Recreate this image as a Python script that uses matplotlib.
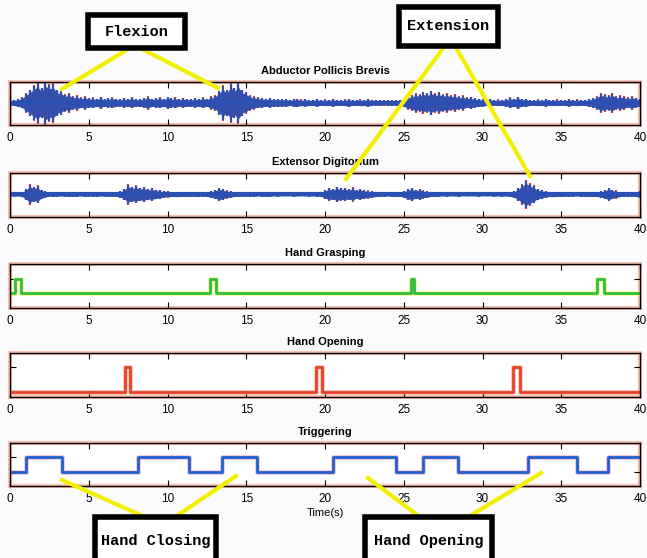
import matplotlib.pyplot as plt
import numpy as np
from matplotlib.lines import Line2D
from matplotlib.patches import Rectangle

# EMG amplitude envelopes, one value every 0.25 s from 0 to 40 s
emg_step = 0.25
apb_env = [
    0.12, 0.15, 0.18, 0.25, 0.45,
    0.6, 0.8, 0.95, 0.7, 1.0, 0.85, 0.9, 0.6,
    0.55, 0.4, 0.45, 0.3, 0.35, 0.25, 0.3, 0.22,
    0.25, 0.2, 0.28, 0.18, 0.22, 0.25, 0.2, 0.18,
    0.22, 0.2, 0.25, 0.18, 0.2, 0.22, 0.3, 0.2,
    0.22, 0.25, 0.2, 0.28, 0.22, 0.25, 0.2, 0.22,
    0.2, 0.18, 0.22, 0.2, 0.25, 0.2, 0.3, 0.35,
    0.55, 0.8, 0.6, 0.9, 0.7, 0.95, 0.6, 0.5,
    0.35, 0.3, 0.25, 0.22, 0.2, 0.22, 0.18, 0.2,
    0.18, 0.2, 0.15, 0.18, 0.2, 0.16, 0.18, 0.15,
    0.15, 0.18, 0.14, 0.16, 0.15, 0.17, 0.15, 0.14,
    0.16, 0.18, 0.15, 0.14, 0.16, 0.15, 0.18, 0.14,
    0.13, 0.15, 0.12, 0.14, 0.13, 0.15, 0.14, 0.2,
    0.3, 0.35, 0.45, 0.4, 0.5, 0.45, 0.55, 0.45,
    0.5, 0.4, 0.45, 0.35, 0.4, 0.3, 0.35, 0.25,
    0.28, 0.22, 0.2, 0.18, 0.15, 0.17, 0.14, 0.16,
    0.15, 0.18, 0.25, 0.2, 0.28, 0.18, 0.2, 0.15,
    0.14, 0.16, 0.15, 0.17, 0.14, 0.15, 0.16, 0.14,
    0.15, 0.17, 0.14, 0.16, 0.15, 0.14, 0.18, 0.22,
    0.3, 0.45, 0.4, 0.35, 0.45, 0.3, 0.35, 0.3,
    0.25, 0.3, 0.22, 0.2,
]
ed_env = [
    0.08, 0.1, 0.09, 0.12, 0.25,
    0.45, 0.35, 0.4, 0.2, 0.15, 0.1, 0.12, 0.1,
    0.09, 0.11, 0.1, 0.12, 0.1, 0.09, 0.11, 0.1,
    0.1, 0.12, 0.09, 0.1, 0.11, 0.1, 0.12, 0.15,
    0.25, 0.45, 0.35, 0.4, 0.3, 0.35, 0.25, 0.3,
    0.22, 0.2, 0.15, 0.14, 0.12, 0.13, 0.12, 0.11,
    0.12, 0.1, 0.12, 0.11, 0.1, 0.12, 0.15, 0.2,
    0.3, 0.25, 0.18, 0.15, 0.12, 0.11, 0.1, 0.12,
    0.1, 0.11, 0.09, 0.1, 0.12, 0.1, 0.09, 0.1,
    0.08, 0.09, 0.08, 0.1, 0.09, 0.08, 0.09, 0.1,
    0.09, 0.1, 0.12, 0.2, 0.3, 0.25, 0.35, 0.28,
    0.3, 0.25, 0.32, 0.22, 0.25, 0.2, 0.18, 0.15,
    0.12, 0.1, 0.11, 0.09, 0.1, 0.12, 0.11, 0.15,
    0.25, 0.3, 0.22, 0.25, 0.18, 0.15, 0.12, 0.11,
    0.1, 0.09, 0.1, 0.08, 0.09, 0.1, 0.08, 0.09,
    0.08, 0.09, 0.1, 0.08, 0.09, 0.08, 0.1, 0.09,
    0.1, 0.09, 0.12, 0.15, 0.3, 0.45, 0.65, 0.5,
    0.4, 0.25, 0.2, 0.15, 0.12, 0.13, 0.11, 0.12,
    0.1, 0.11, 0.1, 0.09, 0.11, 0.1, 0.12, 0.11,
    0.12, 0.15, 0.2, 0.3, 0.22, 0.18, 0.12, 0.1,
    0.11, 0.1, 0.12, 0.15,
]

# on/off pulses (start, end) in seconds
grasp_pulses = [(0.34, 0.68), (12.73, 13.05), (25.44, 25.62), (37.3, 37.7)]
open_pulses = [(7.31, 7.65), (19.44, 19.78), (31.95, 32.4)]
# triggering signal toggles at these times, starting low
trigger_edges = [1.04, 3.29, 8.12, 11.38, 13.44, 15.66, 20.51, 24.48,
                 26.23, 28.45, 32.91, 35.97, 37.98]

titles = ["Abductor Pollicis Brevis", "Extensor Digitorium", "Hand Grasping",
          "Hand Opening", "Triggering"]
xticks = [0, 5, 10, 15, 20, 25, 30, 35, 40]

narrow = ["Liberation Sans Narrow", "Liberation Sans", "DejaVu Sans"]
mono = ["Liberation Mono", "DejaVu Sans Mono"]

W, H = 647, 558
fig = plt.figure(figsize=(W / 100, H / 100), dpi=100, facecolor="#fbfbfd")


def pulse_xy(pulses, t_end=40):
    xs, ys = [0], [0]
    for s, e in pulses:
        xs += [s, e]
        ys += [1, 0]
    xs.append(t_end)
    ys.append(0)
    return xs, ys


def toggle_xy(edges, t_end=40):
    xs, ys = [0], [0]
    level = 0
    for e in edges:
        level = 1 - level
        xs.append(e)
        ys.append(level)
    xs.append(t_end)
    ys.append(level)
    return xs, ys


# axes boxes in pixels: (top, bottom)
boxes = [(82, 125), (173, 217), (264, 308), (353, 397), (443, 486)]
axes = []
for (top, bot), title in zip(boxes, titles):
    ax = fig.add_axes([10 / W, 1 - bot / H, 630 / W, (bot - top) / H])
    ax.set_facecolor("white")
    ax.set_xlim(0, 40)
    ax.set_xticks(xticks)
    ax.tick_params(direction="in", length=4, top=True, right=True,
                   labelsize=8.5, pad=5, width=0.8)
    for lab in ax.get_xticklabels():
        lab.set_family(narrow)
    ax.set_yticklabels([])
    ax.set_title(title, fontsize=8, fontweight="bold", family=narrow, pad=6)
    for sp in ax.spines.values():
        sp.set_linewidth(1.0)
    ax.add_patch(Rectangle((0, 0), 1, 1, transform=ax.transAxes, fill=False,
                           ec="#f6c2b4", lw=3, zorder=0.5, clip_on=False))
    axes.append(ax)

# EMG panels: dense core plus spiky vertical strokes out to the envelope
t_emg = np.arange(len(apb_env)) * emg_step
for ax, env in zip(axes[:2], [apb_env, ed_env]):
    env = np.array(env)
    ax.vlines(t_emg, -env * 1.05, env * 1.05, color="#d84a3a", lw=1.6)
    ax.fill_between(t_emg, -env * 0.8, env * 0.8, color="#2b4fb3", lw=0)
    ax.vlines(t_emg, -env, env, color="#2b4fb3", lw=1.5)
    ax.plot(t_emg, np.zeros_like(t_emg), color="#2b4fb3", lw=3)
    ax.set_ylim(-1.05, 1.0)
    ax.set_yticks([])

# Hand grasping
xs, ys = pulse_xy(grasp_pulses)
axes[2].step(xs, ys, where="post", color="#e8f060", lw=3.5, alpha=0.6)
axes[2].step(xs, ys, where="post", color="#2fbf3a", lw=2)
axes[2].set_ylim(-1, 2)
axes[2].set_yticks([0, 1])

# Hand opening
xs, ys = pulse_xy(open_pulses)
axes[3].step(xs, ys, where="post", color="#f2a08a", lw=3.5, alpha=0.6)
axes[3].step(xs, ys, where="post", color="#e8432a", lw=2)
axes[3].set_ylim(-0.2, 1.54)
axes[3].set_yticks([0, 1])

# Triggering
xs, ys = toggle_xy(trigger_edges)
axes[4].step(xs, ys, where="post", color="#f0a0b8", lw=3.5, alpha=0.6)
axes[4].step(xs, ys, where="post", color="#1f5fcf", lw=2)
axes[4].set_ylim(-1, 2)
axes[4].set_yticks([0, 1])
axes[4].set_xlabel("Time(s)", fontsize=8, family=narrow, labelpad=2)


def px(x, y):
    return x / W, 1 - y / H


# yellow pointer lines (figure pixels)
pointers = [
    ((130, 48), (62, 89)), ((140, 48), (218, 88)),
    ((445, 46), (346, 179)), ((455, 46), (530, 176)),
    ((145, 517), (62, 480)), ((175, 517), (236, 476)),
    ((420, 517), (368, 478)), ((468, 517), (541, 473)),
]
for a, b in pointers:
    (x0, y0), (x1, y1) = px(*a), px(*b)
    fig.add_artist(Line2D([x0, x1], [y0, y1], transform=fig.transFigure,
                          color="#f2f000", lw=3, zorder=5))

# labelled boxes: (left, top, right, bottom, text)
labels = [
    (88, 15, 185, 48, "Flexion"),
    (399, 7, 498, 46, "Extension"),
    (95, 517, 216, 565, "Hand Closing"),
    (365, 517, 492, 565, "Hand Opening"),
]
for l, t, r, b, txt in labels:
    x0, y0 = px(l, b)
    fig.add_artist(Rectangle((x0, y0), (r - l) / W, (b - t) / H,
                             transform=fig.transFigure, fc="white", ec="black",
                             lw=4, zorder=6))
    cy = min((t + b) / 2, t + 24)
    fig.text(*px((l + r) / 2, cy), txt, ha="center", va="center",
             fontsize=11, fontweight="bold", family=mono, zorder=7)

fig.savefig("out.png", dpi=100, facecolor=fig.get_facecolor())
